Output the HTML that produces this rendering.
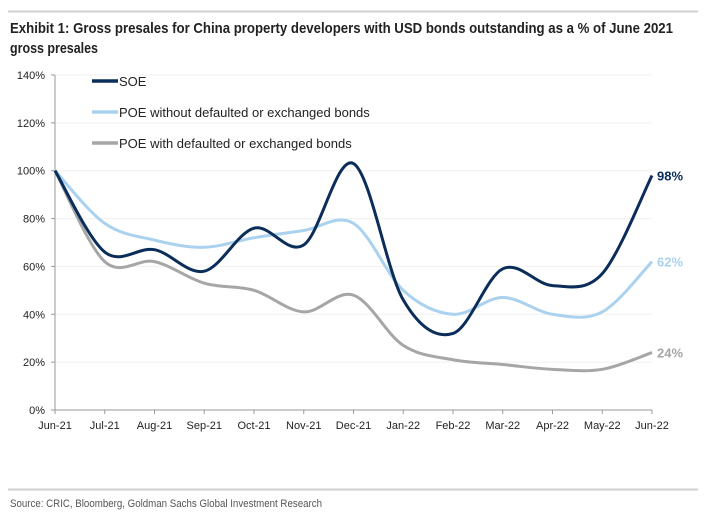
<!DOCTYPE html>
<html><head><meta charset="utf-8"><style>
body{margin:0;background:#fff;}
svg{display:block;font-family:"Liberation Sans",sans-serif;}
</style></head><body>
<svg id="chart" width="704" height="518" viewBox="0 0 704 518">
<rect width="704" height="518" fill="#fff"/>
<line x1="8" y1="11.5" x2="698" y2="11.5" stroke="#d0d0d0" stroke-width="2"/>
<text x="10" y="33" font-size="15" font-weight="bold" fill="#222" textLength="663" lengthAdjust="spacingAndGlyphs">Exhibit 1: Gross presales for China property developers with USD bonds outstanding as a % of June 2021</text>
<text x="10" y="53" font-size="15" font-weight="bold" fill="#222" textLength="88" lengthAdjust="spacingAndGlyphs">gross presales</text>
<g id="grid"></g><g id="axes"></g><g id="series"></g>
<g>
<line x1="92" y1="81" x2="118" y2="81" stroke="#0b2d5a" stroke-width="3.5"/>
<text x="119" y="86" font-size="13" fill="#222">SOE</text>
<line x1="92" y1="112" x2="118" y2="112" stroke="#aad2ef" stroke-width="3.5"/>
<text x="119" y="117" font-size="13" fill="#222">POE without defaulted or exchanged bonds</text>
<line x1="92" y1="143" x2="118" y2="143" stroke="#a6a6a6" stroke-width="3.5"/>
<text x="119" y="148" font-size="13" fill="#222">POE with defaulted or exchanged bonds</text>
</g>
<line x1="8" y1="489.5" x2="698" y2="489.5" stroke="#d0d0d0" stroke-width="2"/>
<text x="10" y="507" font-size="11" fill="#555" textLength="312" lengthAdjust="spacingAndGlyphs">Source: CRIC, Bloomberg, Goldman Sachs Global Investment Research</text>
</svg>
<script>
const categories=["Jun-21","Jul-21","Aug-21","Sep-21","Oct-21","Nov-21","Dec-21","Jan-22","Feb-22","Mar-22","Apr-22","May-22","Jun-22"];
const soe=[100,66,67,58,76,69,103,46,32,59,52,57,98];
const poeWithout=[100,78,71,68,72,75,78,50,40,47,40,41,62];
const poeWith=[100,62,62,53,50,41,48,27,21,19,17,17,24];
const yTicks=[0,20,40,60,80,100,120,140];
const NS="http://www.w3.org/2000/svg";
const X0=55,X1=652,Y0=410,Y1=75;
const x=i=>X0+(X1-X0)*i/(categories.length-1);
const y=v=>Y0-(Y0-Y1)*v/140;
function mk(tag,attrs,parent){const e=document.createElementNS(NS,tag);for(const k in attrs)e.setAttribute(k,attrs[k]);parent.appendChild(e);return e;}
const grid=document.getElementById('grid'),axes=document.getElementById('axes'),series=document.getElementById('series');
yTicks.forEach(t=>{
 if(t>0){const g=mk('line',{x1:X0,x2:X1,y1:y(t),y2:y(t),stroke:'#f0f0f0','stroke-width':1},grid);
 
 }
 const tk=mk('line',{x1:X0-4,x2:X0,y1:y(t),y2:y(t),stroke:'#999'},axes);
 
 
 const l=mk('text',{x:X0-10,y:y(t)+4,'font-size':11,'text-anchor':'end',fill:'#222'},axes);
 l.textContent=t+'%';
 
 
});
const ya=mk('line',{x1:X0,x2:X0,y1:Y1,y2:Y0,stroke:'#999'},axes);


const xa=mk('line',{x1:X0,x2:X1,y1:Y0,y2:Y0,stroke:'#999'},axes);


categories.forEach((c,i)=>{
 const tk=mk('line',{x1:x(i),x2:x(i),y1:Y0,y2:Y0+4,stroke:'#999'},axes);
 
 
 const l=mk('text',{x:x(i),y:Y0+19,'font-size':11,'text-anchor':'middle',fill:'#222'},axes);
 l.textContent=c;
 
 
});
function path(vals){
 const p=vals.map((v,i)=>[x(i),y(v)]);let d='M'+p[0][0]+','+p[0][1];
 for(let i=0;i<p.length-1;i++){const a=p[Math.max(i-1,0)],b=p[i],c=p[i+1],e=p[Math.min(i+2,p.length-1)];
  const c1=[b[0]+(c[0]-a[0])/6,b[1]+(c[1]-a[1])/6],c2=[c[0]-(e[0]-b[0])/6,c[1]-(e[1]-b[1])/6];
  d+=' C'+c1+' '+c2+' '+c;}
 return d;}
[[poeWith,'#a6a6a6','poe-with-line'],[poeWithout,'#aad2ef','poe-without-line'],[soe,'#0b2d5a','soe-line']].forEach(([v,col,name])=>{
 const p=mk('path',{d:path(v),fill:'none',stroke:col,'stroke-width':3},series);
 
 
 const last=v[v.length-1];
 const t=mk('text',{x:X1+5,y:y(last)+5,'font-size':13,'font-weight':'bold',fill:col},series);
 t.textContent=last+'%';
 
 
});
</script>
</body></html>
